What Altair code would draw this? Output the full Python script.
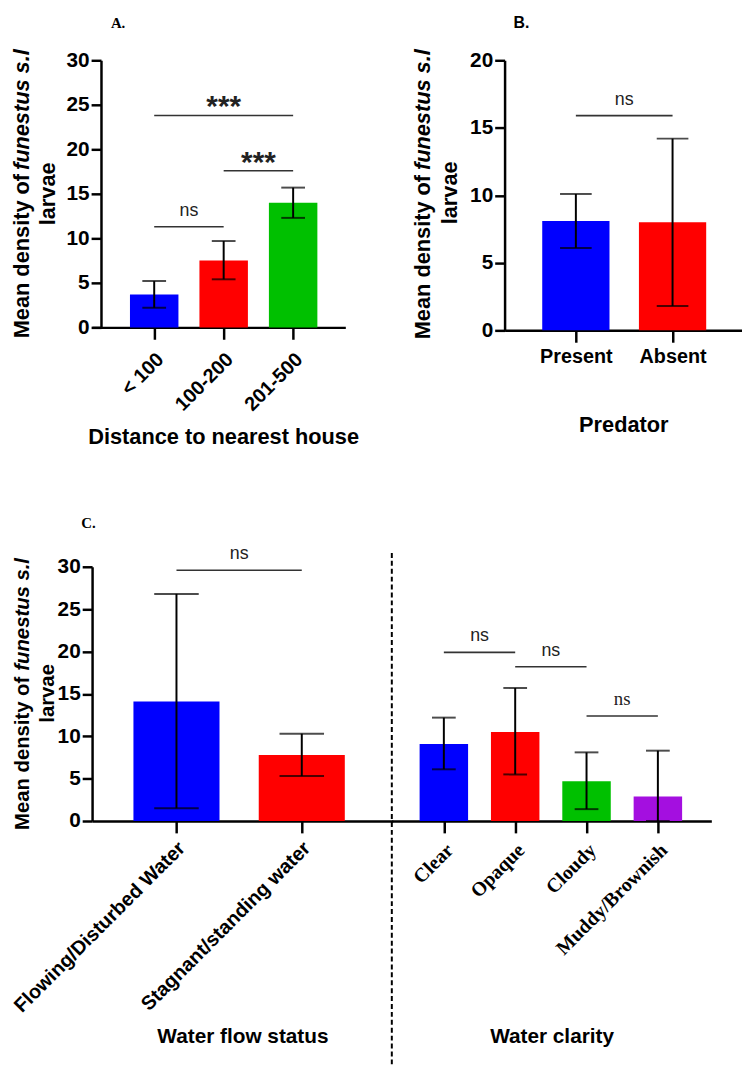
import json
import altair as alt
import pandas as pd

# ---------------- data ----------------
A_CATS = ["< 100", "100-200", "201-500"]
A_MEAN = [3.7, 7.5, 14.0]
A_LOW = [2.2, 5.4, 12.3]
A_HIGH = [5.2, 9.7, 15.7]
A_SIG_FROM = [0, 1, 0]
A_SIG_TO = [1, 2, 2]
A_SIG_Y = [11.3, 17.6, 23.8]
A_SIG_LABEL = ["ns", "***", "***"]

B_CATS = ["Present", "Absent"]
B_MEAN = [8.1, 8.0]
B_LOW = [6.1, 1.8]
B_HIGH = [10.1, 14.2]
B_SIG_FROM = [0]
B_SIG_TO = [1]
B_SIG_Y = [15.9]
B_SIG_LABEL = ["ns"]

C1_CATS = ["Flowing/Disturbed Water", "Stagnant/standing water"]
C1_MEAN = [14.1, 7.8]
C1_LOW = [1.5, 5.3]
C1_HIGH = [26.8, 10.3]
C1_SIG_FROM = [0]
C1_SIG_TO = [1]
C1_SIG_Y = [29.6]
C1_SIG_LABEL = ["ns"]

C2_CATS = ["Clear", "Opaque", "Cloudy", "Muddy/Brownish"]
C2_MEAN = [9.1, 10.5, 4.7, 2.9]
C2_LOW = [6.1, 5.5, 1.4, 0.0]
C2_HIGH = [12.2, 15.7, 8.1, 8.3]
C2_SIG_FROM = [0, 1, 2]
C2_SIG_TO = [1, 2, 3]
C2_SIG_Y = [19.9, 18.2, 12.4]
C2_SIG_LABEL = ["ns", "ns", "ns"]

PANEL_LABELS = ["A.", "B.", "C."]
Y_TITLE_1 = "Mean density of"
Y_TITLE_2 = "funestus s.l"
Y_TITLE_3 = "larvae"

# ---------------- styles ----------------
SANS = "Liberation Sans"
SERIF = "Liberation Serif"
BLUE, RED, GREEN, PURPLE = "#0000ff", "#ff0000", "#00c000", "#a40fe0"
A_COLORS = [BLUE, RED, GREEN]
B_COLORS = [BLUE, RED]
C1_COLORS = [BLUE, RED]
C2_COLORS = [BLUE, RED, GREEN, PURPLE]
C2_SIG_FONTS = [SANS, SANS, SERIF]


def one():
    return pd.DataFrame({"k": [0]})


def panel(cats, mean, low, high, colors, sfrom, sto, sy, slab, sfonts, *,
          width, height, xdom, bar, cap, ymax, show_y, ytick_size,
          x_title, x_title_y, x_title_size, lab_angle, lab_font, lab_size,
          lab_pad, lab_align, lab_baseline, pin, lab_offset=0, y_offset=0,
          title_x=None, ytitle=None, dashed=False, label=None):
    n = len(cats)
    df = pd.DataFrame({"i": list(range(n)), "mean": mean, "low": low,
                       "high": high, "color": colors})
    xscale = alt.Scale(domain=xdom, nice=False, zero=False)
    extra = {}
    if title_x is not None:
        extra["titleX"] = title_x
    xaxis = alt.Axis(
        values=list(range(n)),
        labelExpr=json.dumps(cats) + "[round(datum.value)]",
        title=x_title, titleFont=SANS, titleFontSize=x_title_size,
        titleFontWeight="bold", titleColor="black", titleY=x_title_y,
        titleBaseline="alphabetic",
        labelAngle=lab_angle, labelAlign=lab_align, labelBaseline=lab_baseline,
        labelFont=lab_font, labelFontSize=lab_size, labelFontWeight="bold",
        labelColor="black", labelPadding=lab_pad, labelOffset=lab_offset,
        labelOverlap=False, labelFlush=False, labelLimit=600,
        tickSize=12, tickWidth=2.5, tickColor="black",
        domainWidth=2.5, domainColor="black", grid=False, **extra,
    )
    yscale = alt.Scale(domain=[0, ymax], nice=False, zero=True)
    if show_y:
        yaxis = alt.Axis(
            values=list(range(0, ymax + 1, 5)), title=None, offset=y_offset,
            labelFont=SANS, labelFontSize=ytick_size, labelFontWeight="bold",
            labelColor="black", labelPadding=2,
            tickSize=10, tickWidth=2.5, tickColor="black",
            domainWidth=2.5, domainColor="black", grid=False,
        )
    else:
        yaxis = None

    def X(f):
        return alt.X(f"{f}:Q", scale=xscale, axis=xaxis)

    def Y(f):
        return alt.Y(f"{f}:Q", scale=yscale, axis=yaxis)

    base = alt.Chart(df)
    layers = [
        base.mark_bar(size=bar, orient="vertical").encode(
            x=X("i"), y=Y("mean"), color=alt.Color("color:N", scale=None)),
        base.mark_rule(strokeWidth=2, color="black").encode(
            x=X("i"), y=Y("low"), y2=alt.Y2("high")),
        base.mark_tick(orient="horizontal", size=cap, thickness=2,
                       color="black").encode(x=X("i"), y=Y("low")),
        base.mark_tick(orient="horizontal", size=cap, thickness=2,
                       color="black").encode(x=X("i"), y=Y("high")),
    ]
    for k in range(len(sfrom)):
        sd = pd.DataFrame({"from": [sfrom[k]], "to": [sto[k]], "y": [sy[k]],
                           "mid": [(sfrom[k] + sto[k]) / 2], "label": [slab[k]]})
        stars = slab[k] == "***"
        font = sfonts[k] if sfonts else SANS
        layers.append(alt.Chart(sd).mark_rule(strokeWidth=1.6, color="#333333").encode(
            x=X("from"), x2=alt.X2("to"), y=Y("y")))
        layers.append(alt.Chart(sd).mark_text(
            font=font, fontSize=30 if stars else (19 if font == SERIF else 18),
            fontWeight="bold" if stars else "normal",
            baseline="alphabetic", dy=1 if stars else -11, color="#222222").encode(
            x=X("mid"), y=Y("y"), text="label:N"))
    if ytitle:
        fs, x1, x2, s1, s2, s3 = ytitle
        common = dict(angle=270, baseline="middle", font=SANS, fontSize=fs,
                      fontWeight="bold", color="black")
        layers.append(alt.Chart(one()).mark_text(text=Y_TITLE_1, align="left", **common)
                      .encode(x=alt.value(x1), y=alt.value(s1)))
        layers.append(alt.Chart(one()).mark_text(text=Y_TITLE_2, align="left",
                                                 fontStyle="italic", **common)
                      .encode(x=alt.value(x1), y=alt.value(s2)))
        layers.append(alt.Chart(one()).mark_text(text=Y_TITLE_3, align="center", **common)
                      .encode(x=alt.value(x2), y=alt.value(s3)))
    if label:
        text, font, size, lx, ly = label
        layers.append(alt.Chart(one()).mark_text(
            text=text, font=font, fontSize=size, fontWeight="bold", color="black",
            align="left", baseline="alphabetic").encode(
            x=alt.value(lx), y=alt.value(ly)))
    if dashed:
        layers.append(alt.Chart(one()).mark_rule(strokeWidth=2, strokeDash=[5, 3],
                                                 color="black").encode(
            x=alt.value(0), y=alt.value(-14), y2=alt.value(height + 260)))
    # invisible layout pin
    px1, py1, px2, py2 = pin
    layers.append(alt.Chart(one()).mark_rule(opacity=0).encode(
        x=alt.value(px1), y=alt.value(py1), x2=alt.value(px2), y2=alt.value(py2)))

    return alt.layer(*layers).properties(width=width, height=height)


A = panel(A_CATS, A_MEAN, A_LOW, A_HIGH, A_COLORS, A_SIG_FROM, A_SIG_TO,
          A_SIG_Y, A_SIG_LABEL, None,
          width=256, height=270, xdom=[-0.823, 2.68], bar=49, cap=24, ymax=30,
          show_y=True, ytick_size=21, x_title="Distance to nearest house",
          x_title_y=117, x_title_size=22, title_x=132.5, y_offset=-9,
          lab_angle=-45, lab_font=SANS, lab_size=20, lab_pad=17, lab_offset=6,
          lab_align="right", lab_baseline="middle",
          pin=(-80, -55, 284, 395),
          ytitle=(22, -71, -44, 281, 111, 135),
          label=(PANEL_LABELS[0], SERIF, 15, 19, -33))

B = panel(B_CATS, B_MEAN, B_LOW, B_HIGH, B_COLORS, B_SIG_FROM, B_SIG_TO,
          B_SIG_Y, B_SIG_LABEL, None,
          width=240, height=273, xdom=[-0.686, 1.667], bar=68, cap=32, ymax=20,
          show_y=True, ytick_size=21, x_title="Predator",
          x_title_y=102, x_title_size=22, lab_angle=0, lab_font=SANS,
          lab_size=20, lab_pad=5, lab_align="center", lab_baseline="top",
          pin=(-98, -55, 0, 0),
          ytitle=(22, -82, -55, 282, 111, 134),
          label=(PANEL_LABELS[1], SANS, 16, 9, -33))

C1 = panel(C1_CATS, C1_MEAN, C1_LOW, C1_HIGH, C1_COLORS, C1_SIG_FROM, C1_SIG_TO,
           C1_SIG_Y, C1_SIG_LABEL, None,
           width=304, height=257, xdom=[-0.634, 1.687], bar=87, cap=45, ymax=30,
           show_y=True, ytick_size=21, x_title="Water flow status",
           x_title_y=224, x_title_size=21, lab_angle=-45, lab_font=SANS,
           lab_size=20, lab_pad=12, lab_offset=5, lab_align="right",
           lab_baseline="middle",
           pin=(-83, -54, 0, 0),
           ytitle=(20.5, -70, -45, 266, 105, 128),
           label=(PANEL_LABELS[2], SERIF, 15, -11, -39))

C2 = panel(C2_CATS, C2_MEAN, C2_LOW, C2_HIGH, C2_COLORS, C2_SIG_FROM, C2_SIG_TO,
           C2_SIG_Y, C2_SIG_LABEL, C2_SIG_FONTS,
           width=323, height=257, xdom=[-0.66, 3.68], bar=49, cap=24, ymax=30,
           show_y=False, ytick_size=21, x_title="Water clarity",
           x_title_y=224, x_title_size=21, lab_angle=-45, lab_font=SERIF,
           lab_size=20, lab_pad=14, lab_offset=6, lab_align="right",
           lab_baseline="middle",
           pin=(0, -54, 0, 0), dashed=True)

row1 = alt.concat(A, B, columns=2, spacing=35, align="none")
row2 = alt.concat(C1, C2, columns=2, spacing=-2, align="none")
chart = alt.concat(row1, row2, columns=1, spacing=63, align="none").properties(
    padding={"left": 2, "top": -8, "right": 0, "bottom": 0}
).configure_view(stroke=None)

chart.save("out.html", embed_options={"renderer": "svg", "actions": False})
